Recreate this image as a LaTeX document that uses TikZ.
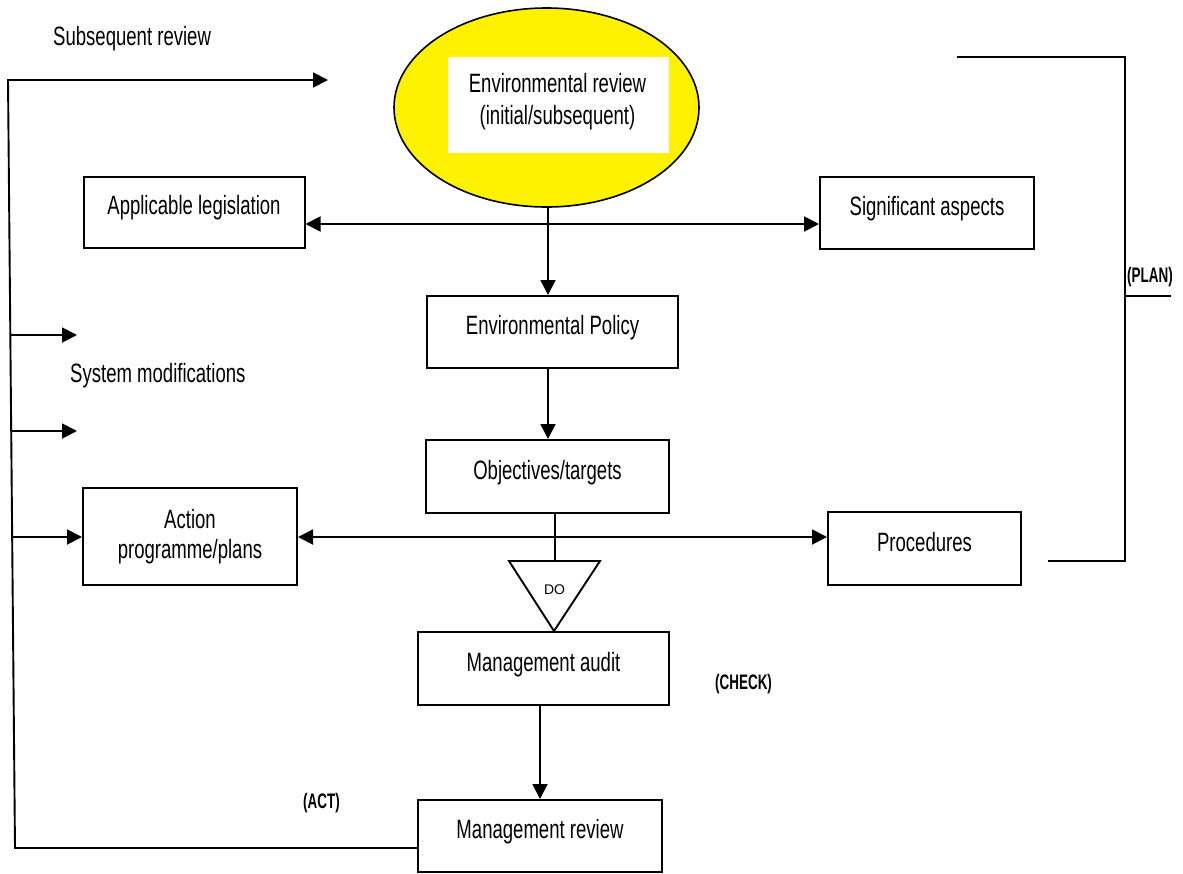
\documentclass[tikz,border=0pt]{standalone}
\usepackage{fontspec}
\setmainfont{Liberation Sans}[FakeStretch=0.7]
\newfontfamily\tagfont{Liberation Sans}[FakeStretch=0.64]
\newfontfamily\dofont{Liberation Sans}
\usetikzlibrary{arrows.meta,shapes.geometric}
\begin{document}
\begin{tikzpicture}[x=1pt,y=-1pt,
  every node/.style={font=\fontsize{26.5}{30}\selectfont},
  box/.style={draw,line width=2pt,inner sep=0pt,text height=19pt,text depth=14pt},
  conn/.style={line width=1.9pt},
  tip/.style={-{Triangle[length=15pt,width=15pt]}},
  both/.style={{Triangle[length=15pt,width=15pt]}-{Triangle[length=15pt,width=15pt]}},
  tag/.style={inner sep=0pt,font=\tagfont\bfseries\fontsize{21}{24}\selectfont}]
\useasboundingbox (0,0) rectangle (1183,873);

% environmental review ellipse with its white label panel
\node[draw,ellipse,fill=yellow,line width=1.6pt,minimum width=305pt,minimum height=199pt,inner sep=0pt] (env) at (546.5,107.5) {};
\node[fill=white,minimum width=221pt,minimum height=96pt,inner sep=0pt] (envbox) at (558.5,105) {};
\node[align=center,inner sep=0pt,font=\fontsize{26.5}{32}\selectfont] (envtext) at (557.5,102) {Environmental review\\(initial/subsequent)};

% process boxes
\node[box,minimum width=221pt,minimum height=71pt] (leg) at (194,212) {Applicable legislation};
\node[box,minimum width=214pt,minimum height=72pt] (sig) at (927,213) {Significant aspects};
\node[box,minimum width=251pt,minimum height=72pt] (pol) at (552.5,332) {Environmental Policy};
\node[box,minimum width=243pt,minimum height=73pt] (obj) at (547.5,476.5) {Objectives/targets};
\node[draw,line width=2pt,inner sep=0pt,align=center,minimum width=214pt,minimum height=97pt] (act) at (190,536.5) {Action\\programme/plans};
\node[box,minimum width=193pt,minimum height=73pt] (proc) at (924.5,548.5) {Procedures};
\node[box,minimum width=251pt,minimum height=73pt] (aud) at (543.5,668.5) {Management audit};
\node[box,minimum width=244pt,minimum height=72pt] (rev) at (540,836) {Management review};

% DO triangle
\coordinate (tl) at (509,561);
\coordinate (tr) at (600,561);
\coordinate (tb) at (554,631);
\coordinate (tritop) at (555,561);
\draw[conn,line join=miter] (tl) -- (tr) -- (tb) -- cycle;
\node[inner sep=0pt,font=\dofont\fontsize{14}{16}\selectfont] (do) at (554.5,590) {DO};

% main flow
\coordinate (hub) at (548,224);
\coordinate (hub2) at (555,537);
\draw[conn,tip] (env.south -| hub) -- (hub |- pol.north);
\draw[conn,both] (leg.east |- hub) -- (sig.west |- hub);
\draw[conn,tip] (hub |- pol.south) -- (hub |- obj.north);
\draw[conn] (hub2 |- obj.south) -- (tritop);
\draw[conn,both] (act.east |- hub2) -- (proc.west |- hub2);
\draw[conn,tip] (rev.north |- aud.south) -- (rev.north);

% feedback loop
\coordinate (fbA) at (15,848);
\coordinate (fbB) at (8,80);
\coordinate (fbC) at (328,80);
\draw[conn,tip] (rev.west |- fbA) -- (fbA) -- (fbB) -- (fbC);
\coordinate (m1s) at (10.5,335);
\coordinate (m1e) at (77,335);
\coordinate (m2s) at (11.3,431);
\coordinate (m2e) at (77,431);
\coordinate (m3s) at (12.2,537);
\draw[conn,tip] (m1s) -- (m1e);
\draw[conn,tip] (m2s) -- (m2e);
\draw[conn,tip] (m3s) -- (act.west |- m3s);

% PLAN bracket
\coordinate (p1) at (957,57);
\coordinate (p2) at (1125,57);
\coordinate (p3) at (1125,561);
\coordinate (p4) at (1048,561);
\coordinate (p5) at (1125,296);
\coordinate (p6) at (1171,296);
\draw[conn] (p1) -- (p2) -- (p3) -- (p4);
\draw[conn] (p5) -- (p6);

% free labels
\node[anchor=base west,inner sep=0pt] (subrev) at (53,45) {Subsequent review};
\node[anchor=base west,inner sep=0pt] (sysmod) at (70,382) {System modifications};
\node[tag,anchor=base west] (plan) at (1127,282) {(PLAN)};
\node[tag,anchor=base west] (check) at (715,689) {(CHECK)};
\node[tag,anchor=base west] (actlbl) at (303,808) {(ACT)};
\end{tikzpicture}
\end{document}
